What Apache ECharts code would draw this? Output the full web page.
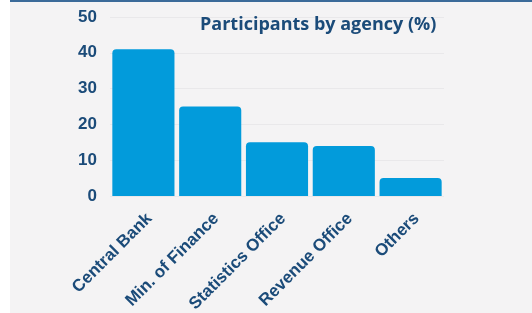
<!DOCTYPE html>
<html>
<head>
<meta charset="utf-8">
<script src="https://cdn.jsdelivr.net/npm/echarts@6/dist/echarts.min.js"></script>
<style>
  html, body { margin: 0; padding: 0; background: #ffffff; }
  #frame {
    position: absolute; left: 10px; top: 0; width: 522px; height: 313px;
    background: #f4f3f4; border-top: 2px solid #3b6a99; box-sizing: border-box;
  }
  #chart { position: absolute; left: 0; top: 0; width: 532px; height: 313px; }
</style>
</head>
<body>
<div id="frame"></div>
<div id="chart"></div>
<script>
// categories and values
const agencies = ['Central Bank', 'Min. of Finance', 'Statistics Office', 'Revenue Office', 'Others'];
const shares = [41, 25, 15, 14, 5];
const yTicks = [0, 10, 20, 30, 40, 50];

const textColor = '#1b4b79';
const chart = echarts.init(document.getElementById('chart'));

const option = {
  backgroundColor: 'transparent',
  title: {
    text: 'Participants by agency (%)',
    left: 195,
    top: 11,
    textStyle: { color: textColor, fontSize: 18, fontWeight: 'bold', fontFamily: 'Open Sans' }
  },
  grid: { left: 110, right: 88, top: 17, bottom: 117, containLabel: false, outerBoundsMode: 'none' },
  xAxis: {
    type: 'category',
    data: agencies,
    axisLine: { show: false },
    axisTick: { show: false },
    axisLabel: {
      rotate: 45,
      interval: 0,
      margin: 14,
      verticalAlign: 'top',
      color: textColor,
      fontSize: 17,
      fontWeight: 'bold',
      fontFamily: 'Liberation Sans'
    }
  },
  yAxis: {
    type: 'value',
    min: yTicks[0],
    max: yTicks[yTicks.length - 1],
    interval: 10,
    axisLine: { show: false },
    axisTick: { show: false },
    axisLabel: {
      margin: 13,
      color: textColor,
      fontSize: 17,
      fontWeight: 'bold',
      fontFamily: 'Liberation Sans'
    },
    splitLine: { lineStyle: { color: '#e9e8ea', width: 1 } }
  },
  series: [{
    type: 'bar',
    data: shares,
    barCategoryGap: '7%',
    itemStyle: { color: '#029bdb', borderRadius: [4, 4, 0, 0] }
  }]
};

chart.setOption(option);
</script>
</body>
</html>
